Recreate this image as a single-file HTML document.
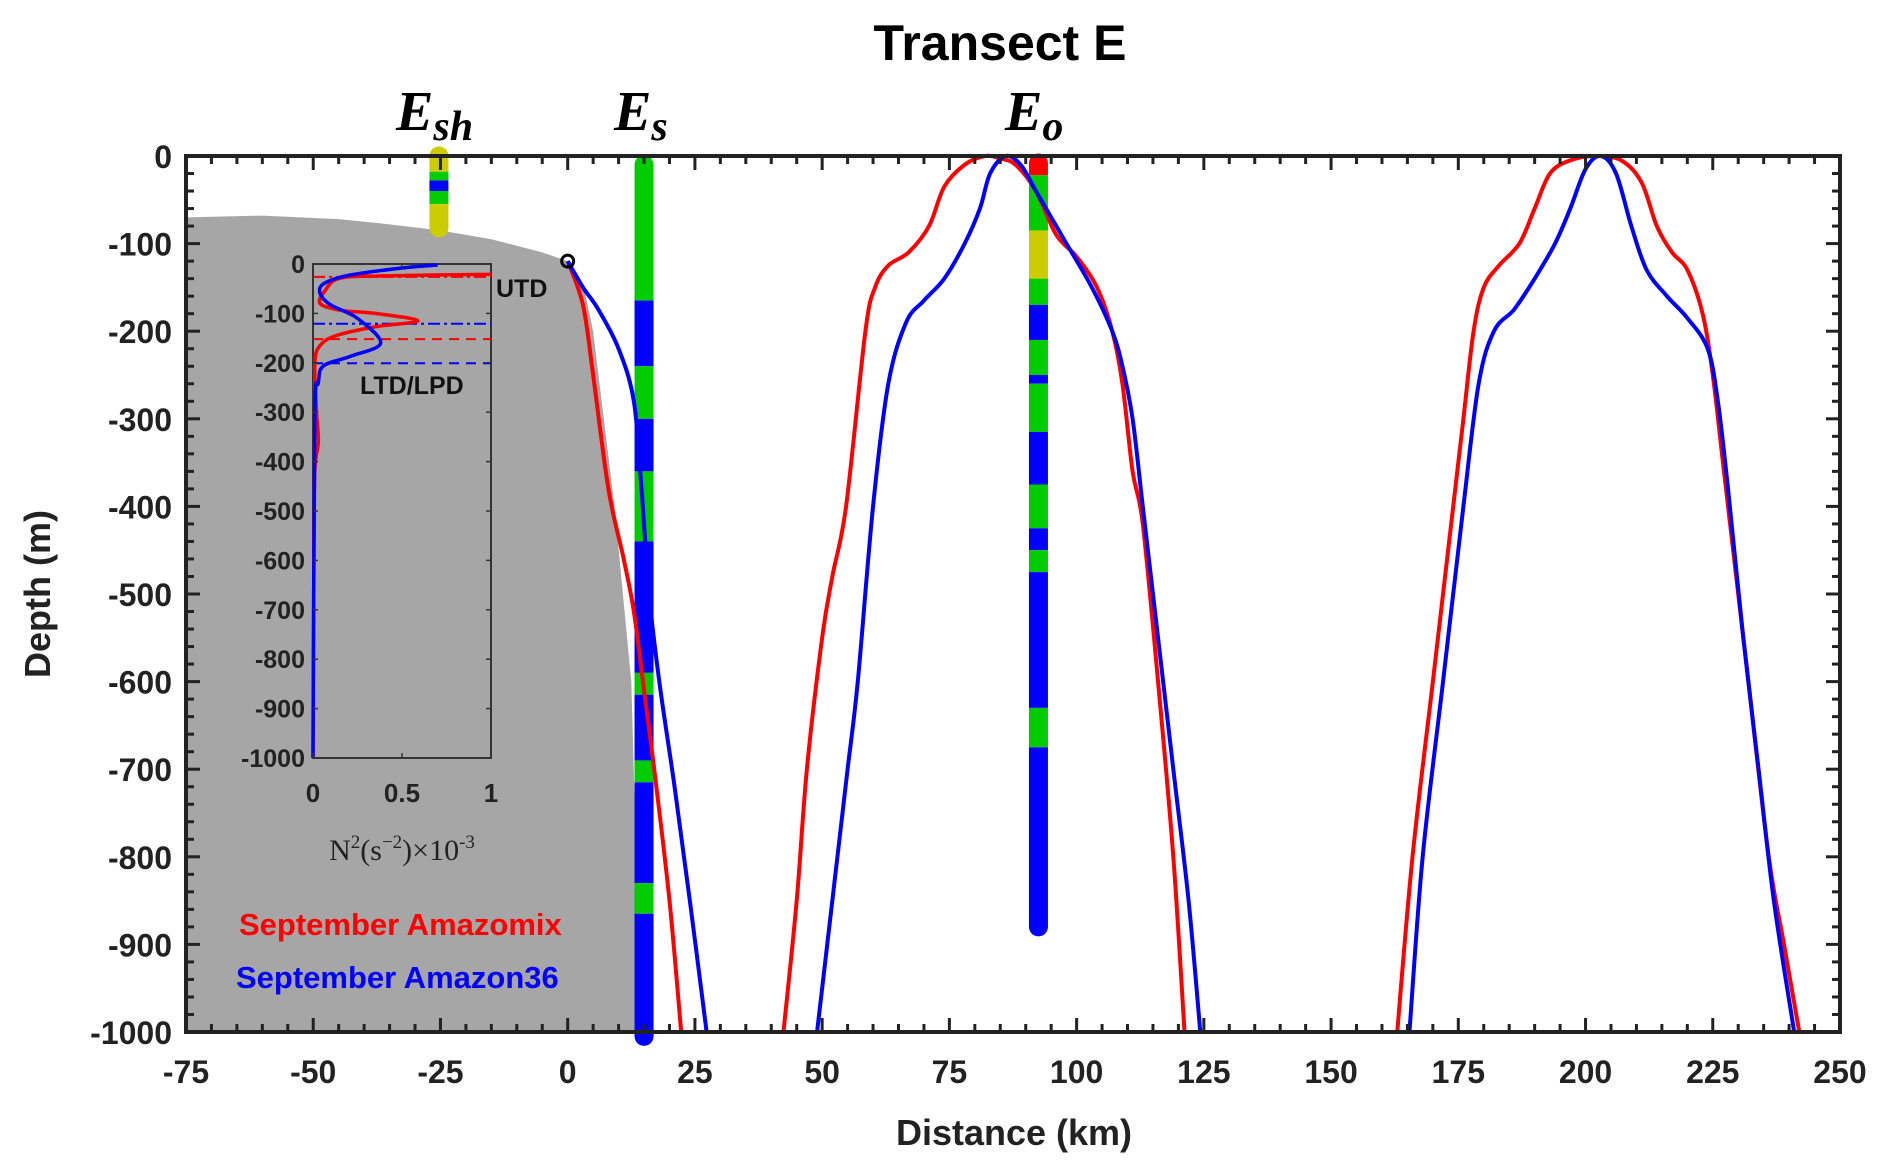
<!DOCTYPE html>
<html><head><meta charset="utf-8"><style>
body{margin:0;background:#fff;}
svg{display:block;font-family:"Liberation Sans",Arial,sans-serif;}
</style></head><body>
<svg id="chart" width="1892" height="1174" viewBox="0 0 1892 1174" xmlns="http://www.w3.org/2000/svg">
<text x="1000" y="60" font-size="50" font-weight="bold" text-anchor="middle">Transect E</text>
<g id="plot"></g>
</svg>
<script>
const xTicks=[-75,-50,-25,0,25,50,75,100,125,150,175,200,225,250];
const yTicks=[0,-100,-200,-300,-400,-500,-600,-700,-800,-900,-1000];
const bathyX=[-75,-60,-45,-35,-25,-15,-5,0,2,3.2,5,9.2,12.5,14.4];
const bathyY=[-70,-68,-72,-78,-85,-95,-110,-120,-135,-150,-200,-400,-600,-1000];
const redSlopeX=[0,3,5,8,11,13,15,17,20,22.3];
const redSlopeY=[-120,-170,-250,-380,-460,-520,-610,-700,-850,-1000];
const blueSlopeX=[0,3,6,10,13,14.5,16,18,21,24,27.3];
const blueSlopeY=[-120,-150,-175,-220,-280,-380,-500,-600,-720,-850,-1000];
const redHump1X=[42.4,45,47,50,52,54.7,58.5,60.4,63,67,71,74,78,82,85,88,92,96,100,104,107,109,111,113,116,119,121.2];
const redHump1Y=[-1000,-850,-700,-550,-480,-400,-200,-150,-125,-110,-80,-35,-10,0,-3,-10,-40,-90,-115,-150,-200,-260,-360,-420,-600,-800,-1000];
const blueHump1X=[49,51,53,55,57,60,63,66.5,70,74,78,81,83,86,89,92,95,98,103,107,109,111,113,115,119,122,124.3];
const blueHump1Y=[-1000,-900,-800,-700,-600,-400,-260,-190,-165,-140,-100,-60,-20,0,-10,-40,-70,-100,-150,-200,-240,-300,-400,-500,-700,-850,-1000];
const redHump2X=[163,166,170,174,176,178,180,183,187,190,193,197,202,207,211,214,217,220,223,225,227,229,232,236,239,242];
const redHump2Y=[-1000,-800,-600,-400,-300,-200,-150,-125,-100,-60,-20,-5,0,-5,-30,-80,-110,-130,-180,-250,-350,-450,-600,-800,-900,-1000];
const blueHump2X=[165.4,168,172,176,179,182,186,190,194,197,200,203,206,209,212,216,220,224,226,228,231,234,237,241];
const blueHump2Y=[-1000,-800,-600,-400,-260,-200,-175,-140,-100,-60,-15,0,-20,-80,-130,-160,-185,-220,-280,-380,-550,-700,-850,-1000];
const eshSegTop=[0,-18,-28,-40,-55];
const eshSegBot=[-18,-28,-40,-55,-82];
const eshSegCol=["#cccc00","#00cc00","#0000ff","#00cc00","#cccc00"];
const esSegTop=[-10,-165,-240,-300,-360,-440,-590,-615,-690,-715,-830,-865];
const esSegBot=[-165,-240,-300,-360,-440,-590,-615,-690,-715,-830,-865,-1005];
const esSegCol=["#00cc00","#0000ff","#00cc00","#0000ff","#00cc00","#0000ff","#00cc00","#0000ff","#00cc00","#0000ff","#00cc00","#0000ff"];
const eoSegTop=[-8,-22,-85,-140,-170,-210,-250,-260,-315,-375,-425,-450,-475,-630,-675];
const eoSegBot=[-22,-85,-140,-170,-210,-250,-260,-315,-375,-425,-450,-475,-630,-675,-880];
const eoSegCol=["#ff0000","#00cc00","#cccc00","#00cc00","#0000ff","#00cc00","#0000ff","#00cc00","#0000ff","#00cc00","#0000ff","#00cc00","#0000ff","#00cc00","#0000ff"];
const insetTicksY=[0,-100,-200,-300,-400,-500,-600,-700,-800,-900,-1000];
const insetTicksX=[0,0.5,1];
const inRedN=[1.0,0.4,0.15,0.07,0.04,0.16,0.35,0.59,0.35,0.13,0.04,0.01,0.02,0.03,0.01,0.005,0];
const inRedD=[-21,-24,-29,-53,-80,-94,-100,-115,-127,-145,-165,-200,-300,-360,-420,-600,-1000];
const inBlueN=[0.70,0.5,0.2,0.06,0.04,0.1,0.25,0.38,0.21,0.06,0.03,0.01,0];
const inBlueD=[-2,-8,-23,-40,-60,-83,-110,-160,-187,-206,-240,-320,-1000];
const inHLines=[-26,-121,-152,-201];

const NS="http://www.w3.org/2000/svg";
const g=document.getElementById('plot');
const L=186,R=1840,T=156,B=1032;
const xs=v=>L+(v+75)/325*(R-L);
const ys=v=>T+(-v)/1000*(B-T);
function el(tag,attrs,parent){const e=document.createElementNS(NS,tag);for(const k in attrs)e.setAttribute(k,attrs[k]);(parent||g).appendChild(e);return e;}

let pts=bathyX.map((x,i)=>xs(x)+','+ys(bathyY[i])).join(' ');
pts=xs(-75)+','+ys(-1000)+' '+pts+' '+xs(14.4)+','+ys(-1000);
const bath=el('polygon',{points:pts,fill:'#a6a6a6'});



function smoothPath(P){
  let d='M'+P[0][0]+','+P[0][1];
  for(let i=0;i<P.length-1;i++){
    const p0=P[Math.max(0,i-1)],p1=P[i],p2=P[i+1],p3=P[Math.min(P.length-1,i+2)];
    const c1x=p1[0]+(p2[0]-p0[0])/6,c1y=p1[1]+(p2[1]-p0[1])/6;
    const c2x=p2[0]-(p3[0]-p1[0])/6,c2y=p2[1]-(p3[1]-p1[1])/6;
    d+=' C'+c1x+','+c1y+' '+c2x+','+c2y+' '+p2[0]+','+p2[1];
  }
  return d;
}
function line(X,Y,col,name,sx,sy,w){
  const P=X.map((x,i)=>[sx(x),sy(Y[i])]);
  const p=el('path',{d:smoothPath(P),fill:'none',stroke:col,'stroke-width':w||4,'stroke-linejoin':'round'});
  
  
  return p;
}
function bar(tops,bots,cols,xkm,name){
  const gg=el('g',{});
  
  
  const cx=xs(xkm),w=19;
  tops.forEach((t,i)=>{
    const y1=ys(t),y2=ys(bots[i]);
    const r=el('rect',{x:cx-w/2,y:y1,width:w,height:y2-y1,fill:cols[i]},gg);
    
    
  });
  const c1=el('circle',{cx:cx,cy:ys(tops[0]),r:w/2,fill:cols[0]},gg);
  
  
  const c2=el('circle',{cx:cx,cy:ys(bots[bots.length-1]),r:w/2,fill:cols[cols.length-1]},gg);
  
  
}
bar(eshSegTop,eshSegBot,eshSegCol,-25.3,'station-esh-bar');
bar(esSegTop,esSegBot,esSegCol,15,'station-es-bar');
bar(eoSegTop,eoSegBot,eoSegCol,92.5,'station-eo-bar');

line(redSlopeX,redSlopeY,'#ff0000','amazomix-slope-line',xs,ys);
line(blueSlopeX,blueSlopeY,'#0000ff','amazon36-slope-line',xs,ys);
line(redHump1X,redHump1Y,'#ff0000','amazomix-eo-line',xs,ys);
line(blueHump1X,blueHump1Y,'#0000ff','amazon36-eo-line',xs,ys);
line(redHump2X,redHump2Y,'#ff0000','amazomix-far-line',xs,ys);
line(blueHump2X,blueHump2Y,'#0000ff','amazon36-far-line',xs,ys);

const c=el('circle',{cx:xs(0),cy:ys(-120),r:6,fill:'none',stroke:'#000','stroke-width':3});



const IL=313,IR=491,IT=264,IB=758;
const ixs=v=>IL+v*(IR-IL);
const iys=v=>IT+(-v)/1000*(IB-IT);
const ib=el('rect',{x:IL,y:IT,width:IR-IL,height:IB-IT,fill:'#a6a6a6',stroke:'#333','stroke-width':2});


const hcols=['#ff0000','#0000ff','#ff0000','#0000ff'];
const hdash=['12,4,3,4','12,4,3,4','10,7','10,7'];
inHLines.forEach((d,i)=>{
  const h=el('line',{x1:IL,x2:IR,y1:iys(d),y2:iys(d),stroke:hcols[i],'stroke-width':2,'stroke-dasharray':hdash[i]});
  
  
});
line(inRedN,inRedD,'#ff0000','inset-amazomix-n2',ixs,iys,3.5);
line(inBlueN,inBlueD,'#0000ff','inset-amazon36-n2',ixs,iys,3.5);
insetTicksY.forEach(v=>{
  el('line',{x1:IL,x2:IL+5,y1:iys(v),y2:iys(v),stroke:'#333','stroke-width':1.5});
  el('line',{x1:IR,x2:IR-5,y1:iys(v),y2:iys(v),stroke:'#333','stroke-width':1.5});
  const t=el('text',{x:IL-8,y:iys(v)+9,'font-size':25,'font-weight':'bold','text-anchor':'end',fill:'#222'});
  t.textContent=v;
  
  
});
insetTicksX.forEach(v=>{
  el('line',{x1:ixs(v),x2:ixs(v),y1:IB,y2:IB-5,stroke:'#333','stroke-width':1.5});
  el('line',{x1:ixs(v),x2:ixs(v),y1:IT,y2:IT+5,stroke:'#333','stroke-width':1.5});
  const t=el('text',{x:ixs(v),y:IB+44,'font-size':26,'font-weight':'bold','text-anchor':'middle',fill:'#222'});
  t.textContent=v;
  
  
});

const fr=el('rect',{x:L,y:T,width:R-L,height:B-T,fill:'none',stroke:'#222','stroke-width':4});


for(let v=-75;v<=250;v+=5){
  const maj=(v%25===0),len=maj?14:8,x=xs(v);
  el('line',{x1:x,x2:x,y1:B,y2:B-len,stroke:'#222','stroke-width':3});
  el('line',{x1:x,x2:x,y1:T,y2:T+len,stroke:'#222','stroke-width':3});
}
for(let v=0;v>=-1000;v-=20){
  const maj=(v%100===0),len=maj?14:8,y=ys(v);
  el('line',{x1:L,x2:L+len,y1:y,y2:y,stroke:'#222','stroke-width':3});
  el('line',{x1:R,x2:R-len,y1:y,y2:y,stroke:'#222','stroke-width':3});
}
xTicks.forEach(v=>{
  const t=el('text',{x:xs(v),y:B+51,'font-size':32,'font-weight':'bold','text-anchor':'middle',fill:'#222'});
  t.textContent=v;
  
  
});
yTicks.forEach(v=>{
  const t=el('text',{x:L-14,y:ys(v)+12,'font-size':32,'font-weight':'bold','text-anchor':'end',fill:'#222'});
  t.textContent=v;
  
  
});

function txt(x,y,s,attrs,name){
  const t=el('text',Object.assign({x:x,y:y},attrs));
  t.textContent=s;
  
  
  return t;
}
txt(1014,1145,'Distance (km)',{'font-size':36,'font-weight':'bold','text-anchor':'middle',fill:'#222'},'x-axis-title');
txt(0,0,'Depth (m)',{'font-size':36,'font-weight':'bold','text-anchor':'middle',fill:'#222',transform:'translate(50,594) rotate(-90)'},'y-axis-title');
txt(496,297,'UTD',{'font-size':25,'font-weight':'bold',fill:'#111'},'utd-label');
txt(360,394,'LTD/LPD',{'font-size':25,'font-weight':'bold',fill:'#111'},'ltd-lpd-label');
const n2=txt(402,860,'',{'font-size':30,'font-family':'Liberation Serif,serif',fill:'#222','text-anchor':'middle'},'inset-x-axis-title');
n2.innerHTML='N<tspan dy="-12" font-size="19">2</tspan><tspan dy="12">(s</tspan><tspan dy="-12" font-size="19">−2</tspan><tspan dy="12">)×10</tspan><tspan dy="-12" font-size="19">-3</tspan>';
txt(239,935,'September Amazomix',{'font-size':31,'font-weight':'bold',fill:'#ff0000'},'legend-amazomix');
txt(236,988,'September Amazon36',{'font-size':31,'font-weight':'bold',fill:'#0000ff'},'legend-amazon36');
const lab=(x,s,name)=>{const t=txt(x,130,'',{'font-size':56,'font-weight':'bold','font-style':'italic','font-family':'Liberation Serif,serif',fill:'#000'},name);t.innerHTML='E<tspan dy="10" font-size="42">'+s+'</tspan>';};
lab(396,'sh','station-esh-label');
lab(614,'s','station-es-label');
lab(1005,'o','station-eo-label');
</script>
</body></html>
